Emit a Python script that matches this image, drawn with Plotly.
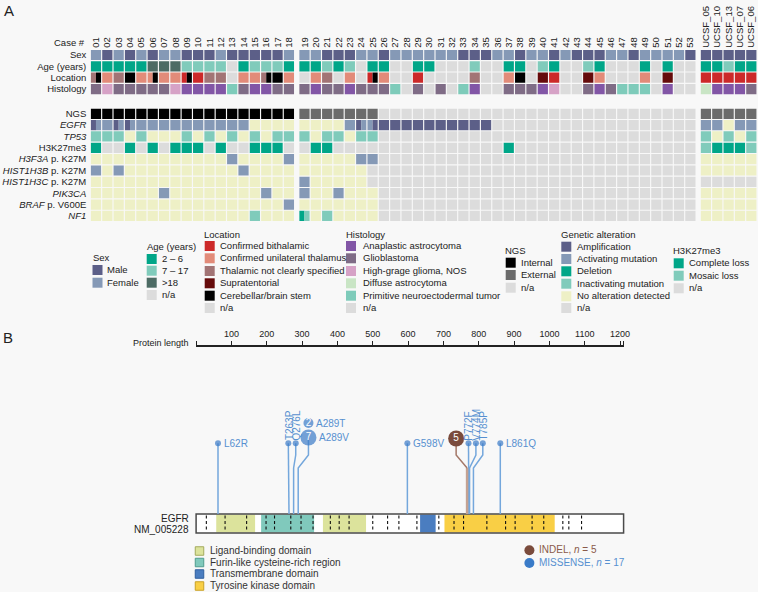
import plotly.graph_objects as go

W, H = 758, 592
BG = '#f8f8f8'
TXT = '#222222'
FONT = 'Liberation Sans, Arial, Helvetica, sans-serif'
FS = 9.5

# ---------------- Panel A data ----------------
cases = ['01', '02', '03', '04', '05', '06', '07', '08', '09', '10', '11', '12', '13', '14', '15',
         '16', '17', '18', '19', '20', '21', '22', '23', '24', '25', '26', '27', '28', '29', '30',
         '31', '32', '33', '34', '35', '36', '37', '38', '39', '40', '41', '42', '43', '44', '45',
         '46', '47', '48', '49', '50', '51', '52', '53',
         'UCSF_05', 'UCSF_10', 'UCSF_13', 'UCSF_07', 'UCSF_06']

# codes per case (01-18 | 19-25 | 26-53 | UCSF); "a|b" = split cell
sex = ('F M F M F M F F M M M F M M M M M F '
       'F F M M M F F '
       'M F F F F F F M M M F F M F F M F M M M F F M F F F F M '
       'M M M M M').split()
age = ('a a a a a c c c b b b b n a b b b a '
       'a a b a b n a '
       'a n n a a n n n b n n a a n b a n n b a n n n a n a n n '
       'a a b a a').split()
location = ('T|C U T C U U|C U U B|C B T T n U U T|C C U '
            'n U T n U n B|C '
            'U n n B n n n n T n n U C n S B n n S U n n n U n S n n '
            'B B B B B').split()
histology = ('G H G G G G G H A A A A P G A A G G '
             'G A G G A G G '
             'G P n G n G n P A n n G G G A H n n G A G P P P n A n n '
             'D A A A G').split()
ngs = ('I I I I I I I I I I I I I I I I I I '
       'E E E E E E E '
       'n n n n n n n n n n n n n n n n n n n n n n n n n n n n '
       'E E E E E').split()
egfr = ('M|V V M|V M|V V V V V V V V V V V Y Y Y Y '
        'Y Y Y Y V M|V V|M '
        'M M M M M M M M M M n n n n n n n n n n n n n n n n n n '
        'V V Y V V').split()
tp53 = ('X X X Y X Y Y Y X Y X Y X Y X Y X X '
        'X Y X X Y X X '
        'n n n n n n n n n n n n n n n n n n n n n n n n n n n n '
        'X Y X Y X').split()
h3k27me3 = ('c n n c n c n c c c n c n n c c c n '
            'n c c n n n n '
            'n n n n n n n n n n n c n n n n n n n n n n n n n n n n '
            'm c c c m').split()
h3f3a = ('Y Y Y Y Y Y Y Y Y Y Y Y V Y Y Y Y V '
         'Y Y Y Y Y V V '
         'n n n n n n n n n n n n n n n n n n n n n n n n n n n n '
         'Y Y Y Y Y').split()
hist1h3b = ('V Y V Y Y Y Y Y Y Y Y Y Y V Y Y Y Y '
            'Y Y Y Y Y Y n '
            'n n n n n n n n n n n n n n n n n n n n n n n n n n n n '
            'Y Y Y Y Y').split()
hist1h3c = ('Y Y Y Y Y Y Y Y Y Y Y Y Y Y Y Y Y Y '
            'V Y Y Y Y Y n '
            'n n n n n n n n n n n n n n n n n n n n n n n n n n n n '
            'n n n n n').split()
pik3ca = ('Y Y Y Y Y Y V Y Y Y Y Y Y Y Y V Y Y '
          'V Y Y V Y Y Y '
          'n n n n n n n n n n n n n n n n n n n n n n n n n n n n '
          'Y Y Y Y Y').split()
braf = ('Y Y Y Y Y Y Y Y Y Y Y Y Y Y Y Y Y V '
        'Y Y Y Y Y Y Y '
        'n n n n n n n n n n n n n n n n n n n n n n n n n n n n '
        'Y Y Y Y Y').split()
nf1 = ('Y Y Y Y Y Y Y Y Y Y Y Y Y Y X Y Y Y '
       'D|X Y X Y Y Y Y '
       'n n n n n n n n n n n n n n n n n n n n n n n n n n n n '
       'Y Y Y Y Y').split()

SEX = {'M': '#5c5f88', 'F': '#8599b6'}
AGE = {'a': '#00a688', 'b': '#80cbbb', 'c': '#4d6b64', 'n': '#dcdcdc'}
LOC = {'B': '#cc2929', 'U': '#e28b79', 'T': '#a27475', 'S': '#650b0b', 'C': '#000000', 'n': '#dcdcdc'}
HIS = {'A': '#8256a6', 'G': '#7f6c86', 'H': '#d6a2c6', 'D': '#c9e5c5', 'P': '#7ecbba', 'n': '#dcdcdc'}
NGSC = {'I': '#000000', 'E': '#6b6b6b', 'n': '#dcdcdc'}
GEN = {'M': '#5c5f88', 'V': '#8599b6', 'D': '#00a688', 'X': '#80cbbb', 'Y': '#eef0c6', 'n': '#dcdcdc'}
H3K = {'c': '#00a688', 'm': '#80cbbb', 'n': '#dcdcdc'}

# ---------------- Panel B data ----------------
protein_len = 1210
prot_ticks = [0, 100, 200, 300, 400, 500, 600, 700, 800, 900, 1000, 1100, 1200, 1210]
prot_ticklabels = ['', '100', '200', '300', '400', '500', '600', '700', '800', '900', '1000', '1100', '1200', '']
domain_names = ['Ligand-binding domain', 'Furin-like cysteine-rich region', 'Ligand-binding domain',
                'Transmembrane domain', 'Tyrosine kinase domain']
domain_start = [57, 184, 359, 634, 703]
domain_end = [167, 334, 481, 678, 1015]
exon_bounds = [29, 82, 143, 198, 222, 268, 297, 331, 380, 405, 433, 500, 542, 574, 625, 687,
               730, 757, 823, 876, 903, 951, 984, 1038, 1055, 1091]
mis_labels = ['L62R', 'T263P', 'Q276L', 'A289T', 'A289V', 'G598V', 'P772F', 'V774M', 'T785P', 'L861Q']
mis_pos = [62, 263, 276, 289, 289, 598, 772, 774, 785, 861]
mis_count = [1, 1, 1, 2, 7, 1, 1, 1, 1, 1]
indel_pos = [767]
indel_count = [5]

# ---------------- layout helpers ----------------
GAP = 0.37
CELL = 0.9
xpos = [i + GAP * (0 if i < 18 else (1 if i < 53 else 2)) for i in range(len(cases))]

rows = [
    ('Sex', sex, SEX, 0.0),
    ('Age (years)', age, AGE, 1.0),
    ('Location', location, LOC, 2.0),
    ('Histology', histology, HIS, 3.0),
    ('NGS', ngs, NGSC, 5.18),
    ('<i>EGFR</i>', egfr, GEN, 6.18),
    ('<i>TP53</i>', tp53, GEN, 7.18),
    ('H3K27me3', h3k27me3, H3K, 8.18),
    ('<i>H3F3A</i> p. K27M', h3f3a, GEN, 9.18),
    ('<i>HIST1H3B</i> p. K27M', hist1h3b, GEN, 10.18),
    ('<i>HIST1H3C</i> p. K27M', hist1h3c, GEN, 11.18),
    ('<i>PIK3CA</i>', pik3ca, GEN, 12.18),
    ('<i>BRAF</i> p. V600E', braf, GEN, 13.18),
    ('<i>NF1</i>', nf1, GEN, 14.18),
]

fig = go.Figure()

bx, bw, bb, bh, bc = [], [], [], [], []
for label, codes, cmap, yr in rows:
    for i, code in enumerate(codes):
        parts = code.split('|')
        w = CELL / len(parts)
        for j, p in enumerate(parts):
            bx.append(xpos[i] - CELL / 2 + w * (j + 0.5))
            bw.append(w)
            bb.append(yr - CELL / 2)
            bh.append(CELL)
            bc.append(cmap[p])
fig.add_trace(go.Bar(x=bx, y=bh, base=bb, width=bw, marker=dict(color=bc, line=dict(width=0)),
                     xaxis='x', yaxis='y', hoverinfo='skip'))

# ---------------- Panel A legend ----------------
legA = [
    ('Sex', 92.7, 257.7, 97.5, 106.7,
     [('Male', SEX['M'], 270), ('Female', SEX['F'], 282.7)]),
    ('Age (years)', 146.7, 246, 151.7, 162,
     [('2 – 6', AGE['a'], 259), ('7 – 17', AGE['b'], 270.7), ('>18', AGE['c'], 282.7), ('n/a', AGE['n'], 295)]),
    ('Location', 204.3, 234, 209.7, 220,
     [('Confirmed bithalamic', LOC['B'], 246), ('Confirmed unilateral thalamus', LOC['U'], 258.3),
      ('Thalamic not clearly specified', LOC['T'], 271), ('Supratentorial', LOC['S'], 283.3),
      ('Cerebellar/brain stem', LOC['C'], 295.7), ('n/a', LOC['n'], 308)]),
    ('Histology', 346, 234, 351, 362.7,
     [('Anaplastic astrocytoma', HIS['A'], 246), ('Glioblastoma', HIS['G'], 258.3),
      ('High-grage glioma, NOS', HIS['H'], 271), ('Diffuse astrocytoma', HIS['D'], 283.3),
      ('Primitive neuroectodermal tumor', HIS['P'], 295.7), ('n/a', HIS['n'], 308)]),
    ('NGS', 505, 250, 510.7, 520.7,
     [('Internal', NGSC['I'], 262.7), ('External', NGSC['E'], 275), ('n/a', NGSC['n'], 287.7)]),
    ('Genetic alteration', 560.7, 234, 566.3, 576.7,
     [('Amplification', GEN['M'], 246.7), ('Activating mutation', GEN['V'], 259),
      ('Deletion', GEN['D'], 271.3), ('Inactivating mutation', GEN['X'], 283.7),
      ('No alteration detected', GEN['Y'], 296.3), ('n/a', GEN['n'], 308)]),
    ('H3K27me3', 672.7, 250, 678.7, 688.7,
     [('Complete loss', H3K['c'], 263.3), ('Mosaic loss', H3K['m'], 275.7), ('n/a', H3K['n'], 288.3)]),
]

annotations = []


def ann(x, y, text, size=FS, color=TXT, xanchor='left', yanchor='middle', xref='x3', yref='y2', angle=0):
    annotations.append(dict(x=x, y=y, text=text, xref=xref, yref=yref, showarrow=False,
                            xanchor=xanchor, yanchor=yanchor, textangle=angle, borderpad=0,
                            font=dict(size=size, color=color, family=FONT)))


lx, ly, lc = [], [], []
for title, tx, ty, sx, tx2, items in legA:
    ann(tx - 1, ty, title)
    for lab, col, y in items:
        lx.append(sx)
        ly.append(y)
        lc.append(col)
        ann(tx2 - 1, y - 0.5, lab)
fig.add_trace(go.Scatter(x=lx, y=ly, mode='markers', xaxis='x3', yaxis='y2', hoverinfo='skip',
                         marker=dict(symbol='square', size=10, color=lc, line=dict(width=0))))

ann(86, 42.5, 'Case #', xanchor='right')
ann(3, 10, 'A', size=15)
ann(2, 337, 'B', size=15)

# ---------------- Panel B ----------------
S = 0.3533     # px per amino acid
X0 = 196.1     # px of residue 0
BOX_Y, BOX_H = 523.5, 19
DOM_COL = {'Ligand-binding domain': '#dce39c', 'Furin-like cysteine-rich region': '#80c9bc',
           'Transmembrane domain': '#4a7dc0', 'Tyrosine kinase domain': '#f9cf45'}
DOM_EDGE = {'Ligand-binding domain': '#a3aa5c', 'Furin-like cysteine-rich region': '#4f9c8e',
            'Transmembrane domain': '#2f5f9e', 'Tyrosine kinase domain': '#c9a126'}
MIS_DOT = '#3a7bc8'
MIS_STEM = '#74a7dc'
MIS_TXT = '#5790d0'
IND_DOT = '#7a4b3c'
IND_STEM = '#a47868'

fig.add_trace(go.Bar(orientation='h', y=[BOX_Y], x=[protein_len], base=[0], width=[BOX_H],
                     marker=dict(color='white', line=dict(width=0)), xaxis='x2', yaxis='y2', hoverinfo='skip'))
fig.add_trace(go.Bar(orientation='h', y=[BOX_Y] * len(domain_start),
                     x=[e - s for s, e in zip(domain_start, domain_end)], base=domain_start,
                     width=[BOX_H - 1] * len(domain_start),
                     marker=dict(color=[DOM_COL[n] for n in domain_names], line=dict(width=0)),
                     xaxis='x2', yaxis='y2', hoverinfo='skip'))
ex_x, ex_y = [], []
for e in exon_bounds:
    ex_x += [e, e, None]
    ex_y += [BOX_Y - BOX_H / 2 + 1.5, BOX_Y + BOX_H / 2 - 1, None]
fig.add_trace(go.Scatter(x=ex_x, y=ex_y, mode='lines', xaxis='x2', yaxis='y2', hoverinfo='skip',
                         line=dict(color='#111', width=1.1, dash='3px,2.5px')))
fig.add_trace(go.Bar(orientation='h', y=[BOX_Y], x=[protein_len], base=[0], width=[BOX_H],
                     marker=dict(color='rgba(0,0,0,0)', line=dict(width=1.5, color='#4a4a4a')),
                     xaxis='x2', yaxis='y2', hoverinfo='skip'))

# display layout of the lollipop heads (position shift, height, label side)
mis_disp = {'L62R': (62, 443.3, 'right'), 'T263P': (261, 443.3, 'up'), 'Q276L': (282, 443.3, 'up'),
            'A289T': (318, 423, 'right'), 'A289V': (318, 437.5, 'right'), 'G598V': (598, 443.3, 'right'),
            'P772F': (771, 443.3, 'up'), 'V774M': (792, 443.3, 'up'), 'T785P': (811.5, 443.3, 'up'),
            'L861Q': (861, 443.3, 'right')}
indel_disp = [(736, 438.5)]
BEND1, BEND2 = 468, 455
BOX_TOP = BOX_Y - BOX_H / 2

sx_, sy_ = [], []
for lab, p in zip(mis_labels, mis_pos):
    if lab == 'A289T':
        continue
    dxp, dy, side = mis_disp[lab]
    sx_ += [p, p, dxp, dxp, None]
    sy_ += [BOX_TOP, BEND1, BEND2, dy, None]
fig.add_trace(go.Scatter(x=sx_, y=sy_, mode='lines', xaxis='x2', yaxis='y2', hoverinfo='skip',
                         line=dict(color=MIS_STEM, width=1.5)))
for p, (dxp, dy) in zip(indel_pos, indel_disp):
    fig.add_trace(go.Scatter(x=[p, p], y=[BOX_TOP, BEND1], mode='lines', xaxis='x2', yaxis='y2',
                             hoverinfo='skip', line=dict(color='#c4a292', width=2.5)))
    fig.add_trace(go.Scatter(x=[p, dxp, dxp], y=[BEND1, BEND2, dy], mode='lines', xaxis='x2', yaxis='y2',
                             hoverinfo='skip', line=dict(color=IND_STEM, width=1.5)))

hx, hy, hs, ht = [], [], [], []
for lab, n in zip(mis_labels, mis_count):
    dxp, dy, side = mis_disp[lab]
    hx.append(dxp)
    hy.append(dy)
    hs.append(6 if n == 1 else (10 if n < 5 else 16))
    ht.append('' if n == 1 else str(n))
    if side == 'right':
        ann(X0 + dxp * S + (hs[-1] / 2 + 1.5), dy, lab, size=10, color=MIS_TXT)
    else:
        ann(X0 + dxp * S + 0.5, dy - 2, lab, size=10, color=MIS_TXT, xanchor='center', yanchor='bottom', angle=-90)
fig.add_trace(go.Scatter(x=hx, y=hy, mode='markers+text', text=ht, textposition='middle center',
                         textfont=dict(color='white', size=10, family=FONT), xaxis='x2', yaxis='y2',
                         hoverinfo='skip', marker=dict(color=MIS_DOT, size=hs, line=dict(width=0))))
fig.add_trace(go.Scatter(x=[d[0] for d in indel_disp], y=[d[1] for d in indel_disp], mode='markers+text',
                         text=[str(n) for n in indel_count], textposition='middle center',
                         textfont=dict(color='white', size=10, family=FONT), xaxis='x2', yaxis='y2',
                         hoverinfo='skip', marker=dict(color=IND_DOT, size=16, line=dict(width=0))))

# protein-length axis carrier (invisible points so the axis is drawn)
fig.add_trace(go.Scatter(x=[0, protein_len], y=[0, 0], mode='markers', marker=dict(opacity=0),
                         xaxis='x4', yaxis='y3', hoverinfo='skip'))

ann(190, 518.5, 'EGFR', size=10, xanchor='right')
ann(190, 529.5, 'NM_005228', size=10, xanchor='right')
ann(190, 342.5, 'Protein length', size=9, xanchor='right')

# panel B legends
legB = [('Ligand-binding domain', 551), ('Furin-like cysteine-rich region', 562.5),
        ('Transmembrane domain', 574), ('Tyrosine kinase domain', 586)]
fig.add_trace(go.Scatter(x=[199.5] * len(legB), y=[y for _, y in legB], mode='markers', xaxis='x3', yaxis='y2',
                         hoverinfo='skip',
                         marker=dict(symbol='square', size=8.5, color=[DOM_COL[n] for n, _ in legB],
                                     line=dict(width=1, color=[DOM_EDGE[n] for n, _ in legB]))))
for n, y in legB:
    ann(209, y - 0.5, n, size=10, color='#333')
fig.add_trace(go.Scatter(x=[529.4, 529.4], y=[550.3, 563], mode='markers', xaxis='x3', yaxis='y2',
                         hoverinfo='skip', marker=dict(size=10, color=[IND_DOT, MIS_DOT])))
ann(537.5, 549.8, 'INDEL, <i>n</i> = %d' % sum(indel_count), size=10, color='#8a5a4a')
ann(537.5, 562.5, 'MISSENSE, <i>n</i> = %d' % sum(mis_count), size=10, color=MIS_TXT)

fig.update_layout(
    width=W, height=H, margin=dict(l=0, r=0, t=0, b=0),
    paper_bgcolor=BG, plot_bgcolor='rgba(0,0,0,0)', showlegend=False, barmode='overlay',
    font=dict(family=FONT, color=TXT, size=10),
    xaxis=dict(domain=[90.3 / W, 757 / W], range=[-0.5, 57 + 2 * GAP + 0.5], side='top', anchor='y',
               tickvals=xpos, ticktext=cases, tickangle=-90, tickfont=dict(size=FS, color=TXT),
               showgrid=False, zeroline=False, showline=False, ticks='', automargin=False),
    yaxis=dict(domain=[1 - 221.8 / H, 1 - 48.76 / H], range=[14.7, -0.55], anchor='x',
               tickvals=[r[3] for r in rows], ticktext=[r[0] for r in rows], tickfont=dict(size=FS, color=TXT),
               showgrid=False, zeroline=False, showline=False, ticks='', automargin=False,
               ticklabelstandoff=3),
    xaxis2=dict(domain=[0, 1], range=[-X0 / S, (W - X0) / S], visible=False, anchor='y2'),
    yaxis2=dict(domain=[0, 1], range=[H, 0], visible=False, anchor='x2'),
    xaxis3=dict(domain=[0, 1], range=[0, W], visible=False, anchor='y2', overlaying='x2'),
    xaxis4=dict(domain=[X0 / W, (X0 + protein_len * S) / W], range=[0, protein_len], anchor='y3', side='top',
                tickvals=prot_ticks, ticktext=prot_ticklabels, ticks='outside', ticklen=4, tickwidth=1,
                tickcolor='#222', showline=True, linewidth=1.5, linecolor='#222', showgrid=False,
                zeroline=False, tickfont=dict(size=9, color=TXT), automargin=False),
    yaxis3=dict(domain=[1 - 347.5 / H, 1 - 346.5 / H], range=[-1, 1], visible=False, anchor='x4'),
    annotations=annotations,
)

fig.write_html('out.html', config={'displayModeBar': False, 'staticPlot': True},
               post_script="document.body.style.margin='0';document.body.style.padding='0';"
                           "document.documentElement.style.background='%s';" % BG)
